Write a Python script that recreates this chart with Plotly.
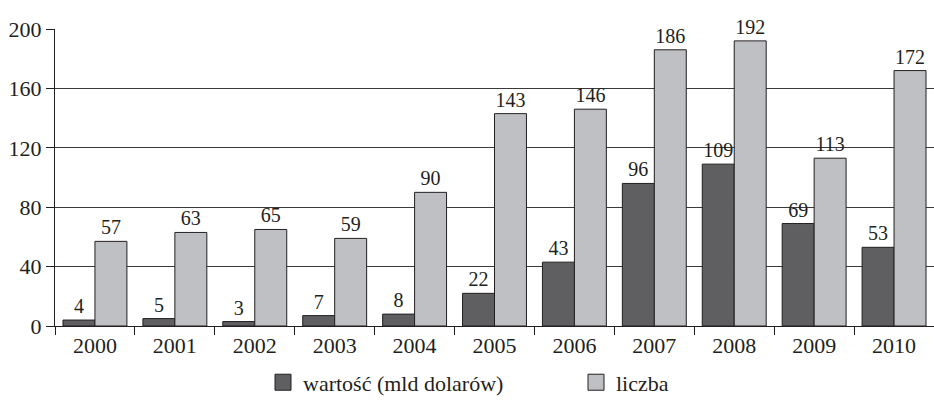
import plotly.graph_objects as go

years = ["2000", "2001", "2002", "2003", "2004", "2005", "2006", "2007", "2008", "2009", "2010"]
wartosc = [4, 5, 3, 7, 8, 22, 43, 96, 109, 69, 53]
liczba = [57, 63, 65, 59, 90, 143, 146, 186, 192, 113, 172]
y_ticks = [0, 40, 80, 120, 160, 200]
series_names = ["wartość (mld dolarów)", "liczba"]
series_colors = ["#5f5f61", "#bfc0c4"]

FONT = "Liberation Serif, DejaVu Serif, Times New Roman, serif"
INK = "#231f20"
fig = go.Figure()
for name, vals, col in zip(series_names, [wartosc, liczba], series_colors):
    fig.add_trace(go.Bar(
        x=years, y=vals, name=name, showlegend=False,
        marker=dict(color=col, line=dict(color=INK, width=1)),
        text=[str(v) for v in vals], textposition="outside",
        textfont=dict(family=FONT, size=20, color=INK),
        constraintext="none", cliponaxis=False,
    ))
# legend entries (square symbols like the reference)
for i, (name, col) in enumerate(zip(series_names, series_colors)):
    fig.add_trace(go.Scatter(
        x=[None], y=[None], mode="markers", name=name,
        legend="legend" if i == 0 else "legend2",
        marker=dict(symbol="square", size=16, color=col, line=dict(color=INK, width=1)),
        showlegend=True, hoverinfo="skip",
    ))
legend_common = dict(
    orientation="h", xanchor="left", y=-0.19, yanchor="middle",
    font=dict(family=FONT, size=22, color=INK), bgcolor="rgba(0,0,0,0)",
)
fig.update_layout(
    width=934, height=405,
    margin=dict(l=55, r=0, t=29, b=79),
    paper_bgcolor="white", plot_bgcolor="white",
    barmode="group", bargap=0.2, bargroupgap=0,
    font=dict(family=FONT, size=21, color=INK),
    showlegend=True,
    legend=dict(x=(263 - 55) / 879, **legend_common),
    legend2=dict(x=(576 - 55) / 879, **legend_common),
    xaxis=dict(
        showline=True, linecolor=INK, linewidth=1,
        ticks="outside", tickson="boundaries", ticklen=8, tickcolor=INK,
        showgrid=False, tickfont=dict(family=FONT, size=22),
    ),
    yaxis=dict(
        range=[0, 200], tickvals=y_ticks,
        showline=True, linecolor=INK, linewidth=1,
        ticks="outside", ticklen=8, tickcolor=INK,
        showgrid=True, gridcolor="#3a3a3a", gridwidth=1,
        zeroline=False, tickfont=dict(family=FONT, size=22),
    ),
)
fig.write_html("out.html", config={"displayModeBar": False},
               post_script="document.body.style.margin='0';")
